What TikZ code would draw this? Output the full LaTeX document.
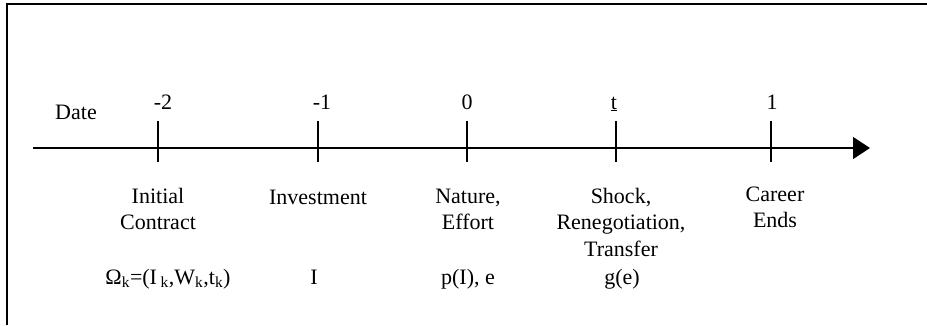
\documentclass[tikz,border=0pt]{standalone}
\usepackage{fontspec}
\setmainfont{Liberation Serif}
\usetikzlibrary{arrows.meta, positioning}

\begin{document}
\begin{tikzpicture}[
    x=1pt, y=-1pt,
    frame/.style={line width=1.8pt},
    axis/.style={line width=1.2pt, -{Triangle[length=17pt, width=22pt]}},
    tickline/.style={line width=1.2pt},
    lbl/.style={font=\fontsize{22}{26.5}\selectfont, anchor=base, inner sep=0pt},
    evt/.style={lbl, align=center}
]
\useasboundingbox (0,0) rectangle (927,325);
\draw[frame] (7,325) -- (7,4) -- (927,4);

% time axis
\coordinate (start) at (33,148);
\coordinate (stop) at (870,148);
\draw[axis] (start) -- (stop);
\node[lbl] (date) at (76,119) {Date};

\foreach \name/\x/\lx/\txt in {m2/158/163/-2, m1/318/322/-1, zero/467/467/0, t/616/614/{\underline{t}}, one/771/772/1} {
  \coordinate (\name top) at (\x,121);
  \coordinate (\name bot) at (\x,162);
  \draw[tickline] (\name top) -- (\name bot);
  \node[lbl] (num\name) at (\lx,109) {\txt};
}

% events (base = last line)
\node[evt] (contract) at (158,229.5) {Initial\\Contract};
\node[evt] (invest) at (318,204) {Investment};
\node[evt] (nature) at (468,229.5) {Nature,\\Effort};
\node[evt] (shock) at (621,256) {Shock,\\Renegotiation,\\Transfer};
\node[evt] (career) at (775,227.5) {Career\\Ends};

% values
\node[lbl] (omega) at (168,284) {Ω\textsubscript{k}=(I\,\textsubscript{k},W\textsubscript{k},t\textsubscript{k})};
\node[lbl] (inv) at (314,284) {I};
\node[lbl] (prob) at (468,284) {p(I), e};
\node[lbl] (gain) at (622,284) {g(e)};
\end{tikzpicture}
\end{document}
